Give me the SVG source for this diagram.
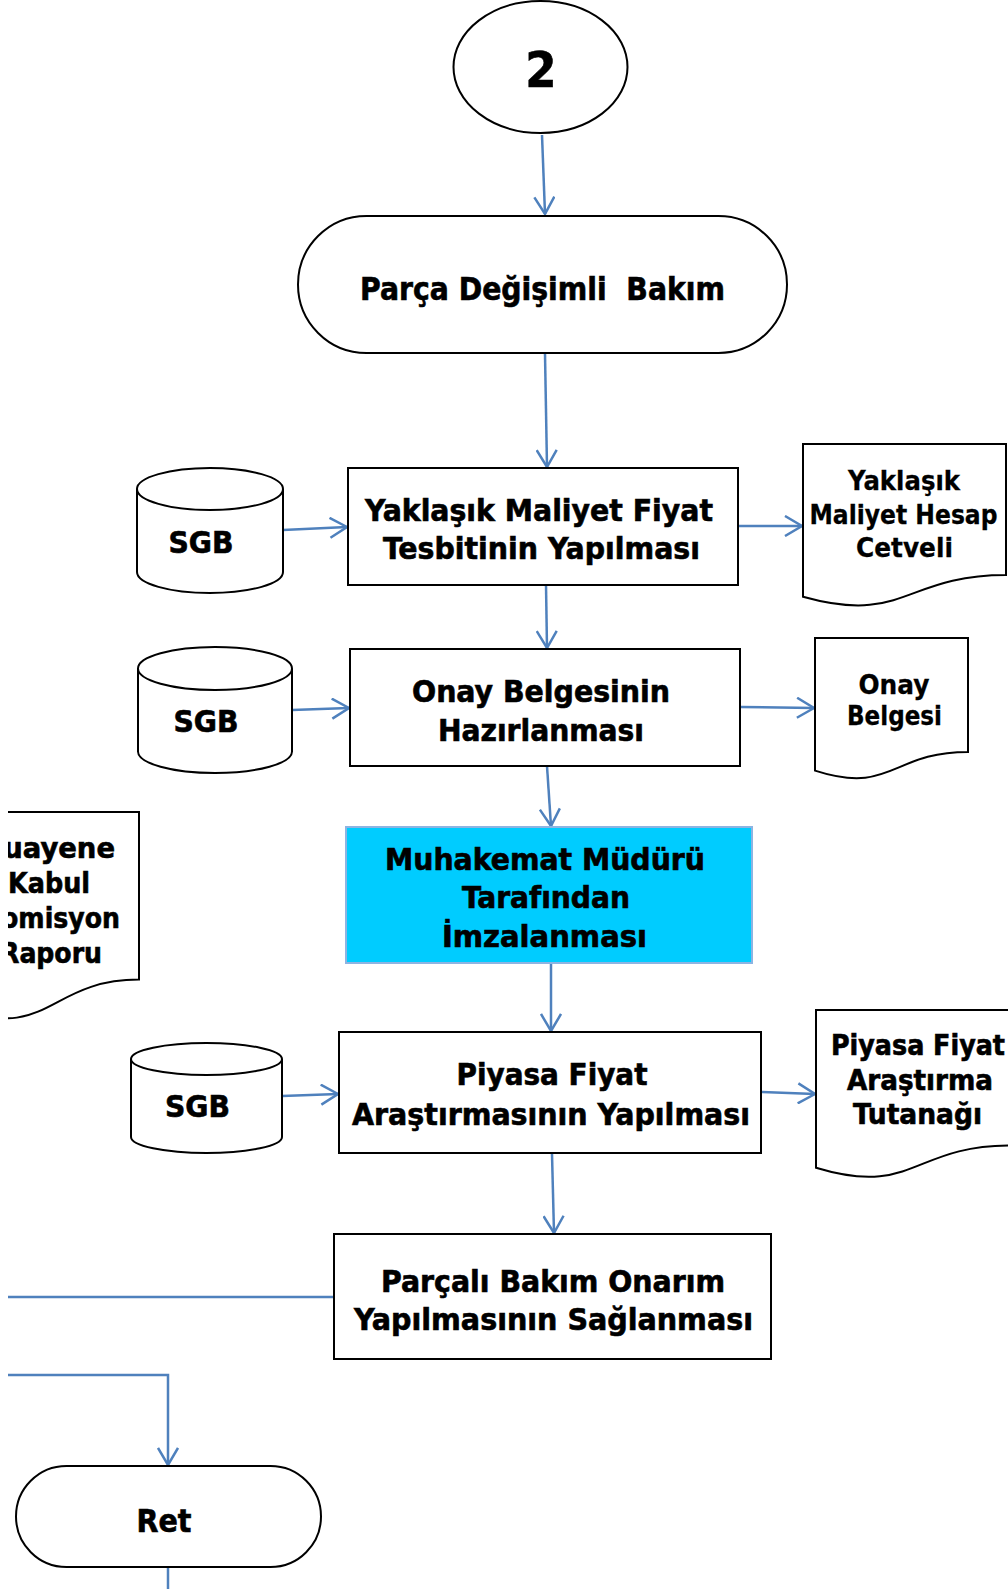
<svg xmlns="http://www.w3.org/2000/svg" width="1008" height="1589" viewBox="0 0 1008 1589">
<style>
.s{fill:#fff;stroke:#000;stroke-width:2}
.c{fill:none;stroke:#4F81BD;stroke-width:2.5}
.t{font-family:"DejaVu Sans Condensed","DejaVu Sans",Verdana,sans-serif;font-weight:bold;fill:#000;stroke:#000;stroke-width:0.6;text-anchor:middle}
.g{font-family:"DejaVu Sans",sans-serif;font-weight:bold;fill:#000;stroke:#000;stroke-width:0.3;text-anchor:middle}
</style>
<defs>
<marker id="ah" markerUnits="userSpaceOnUse" viewBox="0 0 20 22" refX="18" refY="11" markerWidth="20" markerHeight="22" orient="auto">
<path d="M1,1 L18,11 L1,21" fill="none" stroke="#4F81BD" stroke-width="2.5"/>
</marker>
<clipPath id="clip"><rect x="8" y="0" width="1000" height="1589"/></clipPath>
</defs>
<rect width="1008" height="1589" fill="#fff"/>

<g id="connectors" clip-path="url(#clip)">
<path class="c" d="M542,135 L545,214" marker-end="url(#ah)"/>
<path class="c" d="M545,354 L547,467" marker-end="url(#ah)"/>
<path class="c" d="M546,585 L547,648" marker-end="url(#ah)"/>
<path class="c" d="M547,766 L551,826" marker-end="url(#ah)"/>
<path class="c" d="M551,964 L551,1031" marker-end="url(#ah)"/>
<path class="c" d="M552,1154 L554,1233" marker-end="url(#ah)"/>
<path class="c" d="M283,530 L347,527" marker-end="url(#ah)"/>
<path class="c" d="M292,710 L349,708" marker-end="url(#ah)"/>
<path class="c" d="M282,1096 L338,1094" marker-end="url(#ah)"/>
<path class="c" d="M739,526 L802,526" marker-end="url(#ah)"/>
<path class="c" d="M741,707 L814,708" marker-end="url(#ah)"/>
<path class="c" d="M762,1092 L815,1094" marker-end="url(#ah)"/>
<path class="c" d="M334,1297 L0,1297"/>
<path class="c" d="M0,1375 L168,1375 L168,1465" marker-end="url(#ah)"/>
<path class="c" d="M168,1567 L168,1589"/>
</g>

<g id="start2">
<ellipse class="s" cx="540.5" cy="67" rx="87" ry="66"/>
<text class="t" x="541" y="87" font-size="50">2</text>
</g>

<g id="parca-degisimli-bakim">
<rect class="s" x="298" y="216" width="489" height="137" rx="68.5" ry="68.5"/>
<text class="t" x="542.5" y="300" font-size="32" textLength="365" lengthAdjust="spacingAndGlyphs" style="white-space:pre">Parça Değişimli  Bakım</text>
</g>

<g id="sgb1">
<path class="s" d="M137,489 V572 A73,21 0 0 0 283,572 V489"/>
<ellipse class="s" cx="210" cy="489" rx="73" ry="21"/>
<text class="t" x="201" y="553" font-size="31" textLength="65" lengthAdjust="spacingAndGlyphs">SGB</text>
</g>

<g id="yaklasik-maliyet">
<rect class="s" x="348" y="468" width="390" height="117"/>
<text class="t" x="539" y="521" font-size="31" textLength="348" lengthAdjust="spacingAndGlyphs">Yaklaşık Maliyet Fiyat</text>
<text class="t" x="541.5" y="559" font-size="31" textLength="317" lengthAdjust="spacingAndGlyphs">Tesbitinin Yapılması</text>
</g>

<g id="doc-maliyet-cetveli">
<path class="s" d="M803,444 H1006 V575.1 C904.5,575.1 904.5,625.1 803,596.7 Z"/>
<text class="g" x="904" y="490" font-size="27" textLength="112" lengthAdjust="spacingAndGlyphs">Yaklaşık</text>
<text class="g" x="903.5" y="524" font-size="27" textLength="188" lengthAdjust="spacingAndGlyphs">Maliyet Hesap</text>
<text class="g" x="904.5" y="557" font-size="27" textLength="97" lengthAdjust="spacingAndGlyphs">Cetveli</text>
</g>

<g id="sgb2">
<path class="s" d="M138,668.5 V751.5 A77,21.5 0 0 0 292,751.5 V668.5"/>
<ellipse class="s" cx="215" cy="668.5" rx="77" ry="21.5"/>
<text class="t" x="206" y="732" font-size="31" textLength="65" lengthAdjust="spacingAndGlyphs">SGB</text>
</g>

<g id="onay-belgesinin">
<rect class="s" x="350" y="649" width="390" height="117"/>
<text class="t" x="541" y="702" font-size="31" textLength="258" lengthAdjust="spacingAndGlyphs">Onay Belgesinin</text>
<text class="t" x="541" y="741" font-size="31" textLength="206" lengthAdjust="spacingAndGlyphs">Hazırlanması</text>
</g>

<g id="doc-onay-belgesi">
<path class="s" d="M815,638 H968 V751.9 C891.5,751.9 891.5,795.3 815,770.6 Z"/>
<text class="g" x="894" y="694" font-size="26" textLength="71" lengthAdjust="spacingAndGlyphs">Onay</text>
<text class="g" x="894.5" y="725" font-size="26" textLength="95" lengthAdjust="spacingAndGlyphs">Belgesi</text>
</g>

<g id="doc-muayene" clip-path="url(#clip)">
<path class="s" d="M-43,812 H139 V979.6 C48,979.6 48,1043.5 -43,1007.2 Z"/>
<g class="t" font-size="29" style="text-anchor:start">
<text x="-24" y="858" textLength="139" lengthAdjust="spacingAndGlyphs">Muayene</text>
<text x="8" y="893" textLength="82" lengthAdjust="spacingAndGlyphs">Kabul</text>
<text x="-18" y="928" textLength="138" lengthAdjust="spacingAndGlyphs">Komisyon</text>
<text x="0" y="963" textLength="102" lengthAdjust="spacingAndGlyphs">Raporu</text>
</g>
</g>

<g id="muhakemat-imza">
<rect x="346" y="827" width="406" height="136" fill="#00CCFF" stroke="#8DB4E2" stroke-width="2"/>
<text class="t" x="545" y="870" font-size="30" textLength="320" lengthAdjust="spacingAndGlyphs">Muhakemat Müdürü</text>
<text class="t" x="546" y="908" font-size="30" textLength="168" lengthAdjust="spacingAndGlyphs">Tarafından</text>
<text class="t" x="544.5" y="947" font-size="30" textLength="205" lengthAdjust="spacingAndGlyphs">İmzalanması</text>
</g>

<g id="sgb3">
<path class="s" d="M131,1059 V1137 A75.5,16 0 0 0 282,1137 V1059"/>
<ellipse class="s" cx="206.5" cy="1059" rx="75.5" ry="16"/>
<text class="t" x="197.5" y="1117" font-size="31" textLength="65" lengthAdjust="spacingAndGlyphs">SGB</text>
</g>

<g id="piyasa-fiyat">
<rect class="s" x="339" y="1032" width="422" height="121"/>
<text class="t" x="552" y="1085" font-size="31" textLength="191" lengthAdjust="spacingAndGlyphs">Piyasa Fiyat</text>
<text class="t" x="551" y="1125" font-size="31" textLength="398" lengthAdjust="spacingAndGlyphs">Araştırmasının Yapılması</text>
</g>

<g id="doc-piyasa-tutanagi">
<path class="s" d="M816,1010 H1010 V1145.5 C913,1145.5 913,1197.2 816,1167.8 Z"/>
<text class="t" x="918" y="1055" font-size="29" textLength="174" lengthAdjust="spacingAndGlyphs">Piyasa Fiyat</text>
<text class="t" x="920" y="1090" font-size="29" textLength="146" lengthAdjust="spacingAndGlyphs">Araştırma</text>
<text class="t" x="917.5" y="1124" font-size="29" textLength="129" lengthAdjust="spacingAndGlyphs">Tutanağı</text>
</g>

<g id="parcali-bakim">
<rect class="s" x="334" y="1234" width="437" height="125"/>
<text class="t" x="553" y="1292" font-size="31" textLength="344" lengthAdjust="spacingAndGlyphs">Parçalı Bakım Onarım</text>
<text class="t" x="553.5" y="1330" font-size="31" textLength="399" lengthAdjust="spacingAndGlyphs">Yapılmasının Sağlanması</text>
</g>

<g id="ret">
<rect class="s" x="16" y="1466" width="305" height="101" rx="50.5" ry="50.5"/>
<text class="t" x="164" y="1532" font-size="32" textLength="55" lengthAdjust="spacingAndGlyphs">Ret</text>
</g>
</svg>
